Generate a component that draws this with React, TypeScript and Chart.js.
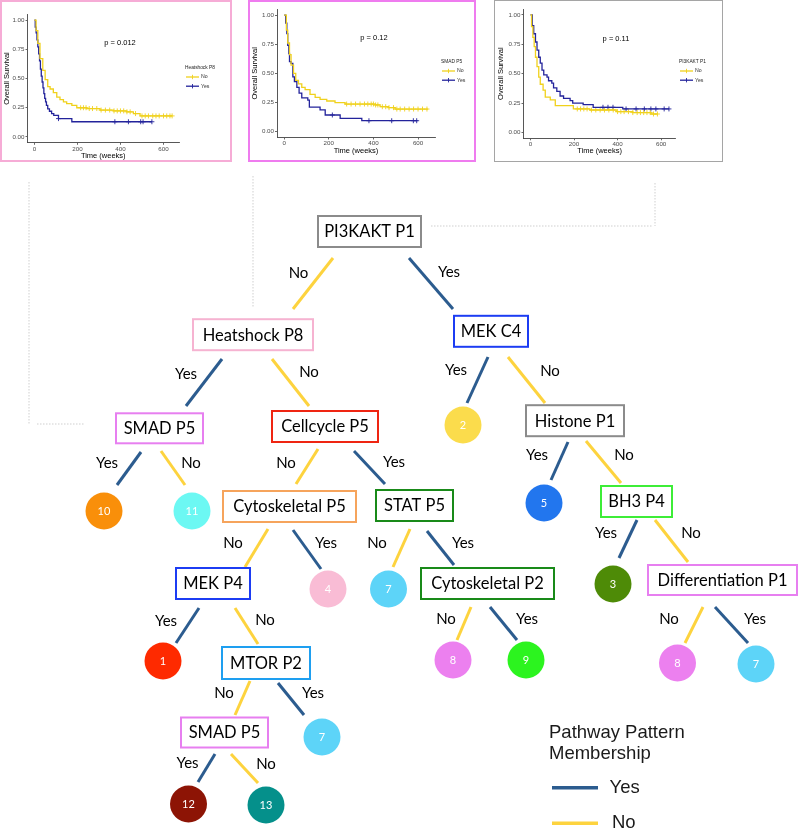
import React, { useEffect, useRef } from 'react';
import { Chart, registerables } from 'chart.js';

Chart.register(...registerables);

// ===== Kaplan–Meier survival curves (time in weeks, survival probability) =====
const kmTimeTicks = [0, 200, 400, 600];
const kmSurvivalTicks = [0, 0.25, 0.5, 0.75, 1];
const kmGroups = ['No', 'Yes'];
const kmGroupTitles = ['Heatshock P8', 'SMAD P5', 'PI3KAKT P1'];
const kmPValues = ['p = 0.012', 'p = 0.12', 'p = 0.11'];

const heatshockNoTime = [0, 8, 16, 26, 39, 50, 62, 73, 88, 104, 119, 135, 150, 174, 197, 243, 305, 367, 429, 460, 491, 640];
const heatshockNoSurv = [1, 0.91, 0.8, 0.67, 0.57, 0.49, 0.43, 0.41, 0.38, 0.34, 0.32, 0.3, 0.285, 0.27, 0.25, 0.243, 0.23, 0.223, 0.215, 0.2, 0.18, 0.18];
const heatshockNoCensor = [215, 228, 240, 255, 270, 290, 310, 330, 350, 370, 385, 400, 415, 430, 445, 470, 500, 515, 530, 550, 565, 580, 600, 615, 630, 640];
const heatshockYesTime = [0, 4, 8, 12, 16, 20, 24, 28, 32, 36, 40, 44, 48, 52, 56, 62, 70, 80, 90, 112, 174, 546];
const heatshockYesSurv = [1, 0.94, 0.89, 0.83, 0.77, 0.71, 0.65, 0.58, 0.52, 0.47, 0.42, 0.37, 0.33, 0.3, 0.27, 0.24, 0.22, 0.2, 0.185, 0.157, 0.13, 0.13];
const heatshockYesCensor = [112, 374, 437, 494, 505, 546];

const smadNoTime = [0, 10, 16, 24, 31, 42, 52, 64, 79, 94, 116, 139, 161, 191, 228, 273, 407, 430, 467, 497, 644];
const smadNoSurv = [1, 0.87, 0.76, 0.66, 0.57, 0.5, 0.44, 0.41, 0.38, 0.36, 0.32, 0.294, 0.277, 0.263, 0.249, 0.237, 0.229, 0.214, 0.206, 0.194, 0.194];
const smadNoCensor = [280, 300, 320, 340, 360, 375, 390, 400, 410, 420, 440, 455, 470, 490, 505, 520, 540, 560, 580, 600, 620, 640];
const smadYesTime = [0, 7, 12, 16, 21, 24, 31, 39, 46, 57, 67, 79, 106, 113, 161, 184, 251, 348, 598];
const smadYesSurv = [1, 0.93, 0.84, 0.74, 0.67, 0.6, 0.586, 0.47, 0.43, 0.38, 0.33, 0.29, 0.27, 0.21, 0.186, 0.143, 0.114, 0.094, 0.094];
const smadYesCensor = [216, 380, 482, 579, 594];

const pi3kNoTime = [0, 5, 11, 17, 23, 30, 38, 45, 58, 68, 91, 114, 197, 273, 394, 470, 553, 583];
const pi3kNoSurv = [1, 0.9, 0.81, 0.73, 0.64, 0.56, 0.47, 0.41, 0.36, 0.3, 0.277, 0.229, 0.2, 0.191, 0.177, 0.169, 0.157, 0.157];
const pi3kNoCensor = [215, 230, 245, 260, 280, 300, 320, 340, 360, 380, 400, 415, 430, 450, 470, 490, 505, 520, 535, 550, 565, 583];
const pi3kYesTime = [0, 8, 15, 23, 30, 38, 45, 53, 61, 76, 83, 98, 106, 121, 136, 152, 182, 194, 242, 288, 424, 636];
const pi3kYesSurv = [1, 0.91, 0.84, 0.77, 0.7, 0.64, 0.59, 0.53, 0.49, 0.47, 0.44, 0.42, 0.38, 0.35, 0.31, 0.29, 0.27, 0.25, 0.237, 0.214, 0.2, 0.2];
const pi3kYesCensor = [333, 356, 379, 439, 485, 523, 553, 576, 614, 636];

// ===== Decision tree =====
const splitLabels = ['PI3KAKT P1', 'Heatshock P8', 'MEK C4', 'SMAD P5', 'Cellcycle P5', 'Histone P1', 'Cytoskeletal P5', 'STAT P5', 'BH3 P4', 'MEK P4', 'Cytoskeletal P2', 'Differentiation P1', 'MTOR P2', 'SMAD P5'];
const leafClusters = ['2', '10', '11', '5', '4', '7', '3', '1', '8', '9', '8', '7', '7', '12', '13'];
const edgeBranches = ['No', 'Yes', 'Yes', 'No', 'Yes', 'No', 'Yes', 'No', 'No', 'Yes', 'Yes', 'No', 'No', 'Yes', 'No', 'Yes', 'Yes', 'No', 'Yes', 'No', 'No', 'Yes', 'No', 'Yes', 'No', 'Yes', 'Yes', 'No'];
const membershipTitle = ['Pathway Pattern', 'Membership'];
const membershipEntries = ['Yes', 'No'];

// ----- layout & styles (kept apart from the data) -----
const YES_BLUE = '#2c5c8f';
const NO_YELLOW = '#fdd33e';
const KM_YES = '#23239b';
const KM_NO = '#f0d11c';
const KM_FONT = '"Liberation Sans", Arial, sans-serif';
const TREE_FONT = 'Lato, "Liberation Sans", sans-serif';

const splitBoxes = [
  [369.5, 231.5, 103, 31], [253, 334.7, 120, 31], [491, 331.3, 74, 31], [159.5, 428.3, 87, 30],
  [325, 426.5, 106, 31], [575, 420.7, 98, 31], [289.5, 506.5, 133, 31], [414.5, 505.5, 77, 31],
  [636.5, 501.5, 71, 31], [213, 583.5, 74, 31], [487.5, 583.5, 133, 31], [722.5, 580, 149, 30],
  [266, 663, 88, 32], [224.5, 732.5, 87, 30],
];
const splitColors = ['#8b8b8b', '#f6b3d1', '#1c3cf3', '#e77ff0', '#ef2512', '#8b8b8b', '#f6a45c', '#198a19', '#3ded37', '#1c3cf3', '#198a19', '#e77ff0', '#1e9ff0', '#e77ff0'];
const leafCenters = [
  [463, 425], [104, 511], [192, 511], [544, 503], [328, 589], [388.5, 589], [613, 584], [163, 661],
  [453, 660], [526, 660], [677.5, 663], [756, 664], [322, 737], [188.5, 804], [266, 805],
];
const leafColors = ['#fbdc4c', '#f98f0a', '#6cf8f3', '#2276ee', '#f9bcd5', '#5dd4f8', '#4e8b07', '#fe2a00', '#ec80ef', '#2cf41f', '#ec80ef', '#5dd4f8', '#5dd4f8', '#8d1405', '#05908b'];
const edgeSegments = [
  [333, 258, 293, 309], [409, 258, 453, 309], [222, 359, 186, 406], [272, 359, 309, 406],
  [488, 357, 467, 403], [508, 357, 545, 403], [141, 452, 117, 485], [161, 451, 185, 485],
  [318, 449, 296, 484], [354, 451, 385, 484], [568, 442, 551, 480], [586, 441, 621, 483],
  [268, 529, 245, 567], [293, 530, 321, 569], [410, 529, 393, 567], [427, 531, 454, 565],
  [637, 520, 619, 558], [655, 520, 688, 562], [199, 608, 176, 643], [235, 608, 258, 644],
  [471, 607, 457, 640], [490, 607, 517, 640], [703, 607, 685, 643], [715, 607, 748, 643],
  [250, 681, 235, 715], [278, 683, 304, 715], [215, 754, 198, 782], [231, 754, 258, 783],
];
const edgeLabelAt = [
  [298.5, 273], [449, 272], [186, 374], [309, 372], [456, 370], [550, 371], [107, 463], [191, 463],
  [286, 463], [394, 462], [537, 455], [624, 455], [233, 543], [326, 543], [377, 543], [463, 543],
  [606, 533], [691, 533], [166, 621], [265, 620], [446, 619], [527, 619], [669, 619], [755, 619],
  [224, 693], [313, 693], [187.5, 763], [266, 764],
];
const guideSegments = [[29, 182, 29, 425], [37, 424, 85, 424], [253, 176, 253, 308], [655, 183, 655, 226], [431, 226, 652, 226]];

type KMSpec = {
  curves: [number[], number[], number[]][];
  title: string;
  p: string;
  xMin: number;
  xMax: number;
  box: { left: number; top: number; width: number; height: number; border: string; bw: number };
  area: { l: number; r: number; t: number; b: number };
  yTitlePad: number;
  xTitlePad: number;
  pPos: [number, number];
  legPos: [number, number];
};

const kmSpecs: KMSpec[] = [
  {
    curves: [[heatshockNoTime, heatshockNoSurv, heatshockNoCensor], [heatshockYesTime, heatshockYesSurv, heatshockYesCensor]],
    title: kmGroupTitles[0], p: kmPValues[0], xMin: -32, xMax: 672,
    box: { left: 0, top: 0, width: 232, height: 162, border: '#f6acd6', bw: 2 },
    area: { l: 27.5, r: 179, t: 14.2, b: 142.8 }, yTitlePad: 2.5, xTitlePad: 1.8,
    pPos: [120, 43], legPos: [185, 68],
  },
  {
    curves: [[smadNoTime, smadNoSurv, smadNoCensor], [smadYesTime, smadYesSurv, smadYesCensor]],
    title: kmGroupTitles[1], p: kmPValues[1], xMin: -32, xMax: 676,
    box: { left: 248, top: 0, width: 228, height: 162, border: '#ef7cef', bw: 2 },
    area: { l: 29, r: 187, t: 9.2, b: 137.5 }, yTitlePad: 2.5, xTitlePad: 7,
    pPos: [126, 38], legPos: [193, 62],
  },
  {
    curves: [[pi3kNoTime, pi3kNoSurv, pi3kNoCensor], [pi3kYesTime, pi3kYesSurv, pi3kYesCensor]],
    title: kmGroupTitles[2], p: kmPValues[2], xMin: -32, xMax: 667,
    box: { left: 494, top: 0, width: 229, height: 162, border: '#a5a5a5', bw: 1.5 },
    area: { l: 29.5, r: 181.7, t: 9.1, b: 138.3 }, yTitlePad: 2.5, xTitlePad: 6.5,
    pPos: [122, 39], legPos: [185, 62],
  },
];

const survivalAt = (t: number[], s: number[], x: number) => {
  let v = s[0];
  for (let i = 0; i < t.length; i++) if (t[i] <= x) v = s[i];
  return v;
};

const kmAnnotations = {
  id: 'kmAnnotations',
  afterDraw(chart: any, _args: any, o: any) {
    const ctx = chart.ctx;
    ctx.save();
    ctx.fillStyle = '#000';
    ctx.font = `7.5px ${KM_FONT}`;
    ctx.textAlign = 'center';
    ctx.textBaseline = 'middle';
    ctx.fillText(o.p, o.pX, o.pY);
    ctx.textAlign = 'left';
    ctx.font = `4.8px ${KM_FONT}`;
    ctx.fillStyle = '#1a1a1a';
    ctx.fillText(o.title, o.legX, o.legY);
    o.items.forEach((it: any, i: number) => {
      const y = o.legY + 9 + i * 9.2;
      ctx.strokeStyle = it.color;
      ctx.lineWidth = 1.3;
      ctx.beginPath();
      ctx.moveTo(o.legX + 1, y);
      ctx.lineTo(o.legX + 14, y);
      ctx.stroke();
      const cx = o.legX + 7.5;
      ctx.lineWidth = 0.9;
      ctx.beginPath();
      ctx.moveTo(cx, y - 2.2);
      ctx.lineTo(cx, y + 2.2);
      ctx.stroke();
      ctx.fillStyle = '#333';
      ctx.font = `5.2px ${KM_FONT}`;
      ctx.fillText(it.label, o.legX + 16, y);
    });
    ctx.restore();
  },
};

function kmConfig(spec: KMSpec): any {
  const colors = [KM_NO, KM_YES];
  const datasets: any[] = [];
  spec.curves.forEach(([t, s], gi) => {
    datasets.push({
      label: kmGroups[gi],
      data: t.map((x, i) => ({ x, y: s[i] })),
      borderColor: colors[gi],
      borderWidth: 1.3,
      stepped: 'before',
      pointRadius: 0,
      fill: false,
    });
  });
  spec.curves.forEach(([t, s, c], gi) => {
    datasets.push({
      label: kmGroups[gi] + ' censored',
      data: c.map((x) => ({ x, y: survivalAt(t, s, x) })),
      showLine: false,
      pointStyle: 'cross',
      pointRadius: 2.5,
      pointBorderColor: colors[gi],
      pointBorderWidth: 0.9,
      borderColor: colors[gi],
    });
  });
  const axisGrid = { display: true, drawOnChartArea: false, drawTicks: true, tickLength: 2, color: '#444', lineWidth: 0.8 };
  const axisBorder = { display: true, color: '#444', width: 0.9 };
  return {
    type: 'line',
    data: { datasets },
    plugins: [kmAnnotations],
    options: {
      animation: false,
      responsive: false,
      maintainAspectRatio: false,
      events: [],
      layout: { autoPadding: false, padding: { left: 0, top: spec.area.t, right: spec.box.width - spec.area.r, bottom: 0 } },
      plugins: {
        legend: { display: false },
        tooltip: { enabled: false },
        kmAnnotations: {
          p: spec.p, pX: spec.pPos[0], pY: spec.pPos[1], title: spec.title,
          legX: spec.legPos[0], legY: spec.legPos[1],
          items: kmGroups.map((g, i) => ({ label: g, color: colors[i] })),
        },
      },
      scales: {
        x: {
          type: 'linear', min: spec.xMin, max: spec.xMax,
          afterBuildTicks: (ax: any) => { ax.ticks = kmTimeTicks.map((v) => ({ value: v })); },
          afterFit: (sc: any) => { sc.height = spec.box.height - spec.area.b; },
          grid: axisGrid, border: axisBorder,
          ticks: { font: { family: KM_FONT, size: 6.2 }, color: '#4d4d4d', padding: 0.5, maxRotation: 0, autoSkip: false, callback: (v: any) => String(v) },
          title: { display: true, text: 'Time (weeks)', color: '#000', font: { family: KM_FONT, size: 7.5 }, padding: { top: 0, bottom: spec.xTitlePad } },
        },
        y: {
          type: 'linear', min: -0.05, max: 1.05,
          afterBuildTicks: (ax: any) => { ax.ticks = kmSurvivalTicks.map((v) => ({ value: v })); },
          afterFit: (sc: any) => { sc.width = spec.area.l; },
          grid: axisGrid, border: axisBorder,
          ticks: { font: { family: KM_FONT, size: 6.2 }, color: '#4d4d4d', padding: 1, autoSkip: false, callback: (v: any) => Number(v).toFixed(2) },
          title: { display: true, text: 'Overall Survival', color: '#000', font: { family: KM_FONT, size: 7.5 }, padding: { top: spec.yTitlePad, bottom: 0 } },
        },
      },
    },
  };
}

const treeAnnotations = {
  id: 'treeAnnotations',
  afterDatasetsDraw(chart: any) {
    const { ctx } = chart;
    const xs = chart.scales.x;
    const ys = chart.scales.y;
    const px = (v: number) => xs.getPixelForValue(v);
    const py = (v: number) => ys.getPixelForValue(v);
    ctx.save();
    // split boxes
    splitLabels.forEach((label, i) => {
      const [cx, cy, w, h] = splitBoxes[i];
      const x0 = px(cx - w / 2), x1 = px(cx + w / 2);
      const y0 = py(cy - h / 2), y1 = py(cy + h / 2);
      ctx.fillStyle = '#fff';
      ctx.fillRect(x0, y0, x1 - x0, y1 - y0);
      ctx.strokeStyle = splitColors[i];
      ctx.lineWidth = 2;
      ctx.strokeRect(x0, y0, x1 - x0, y1 - y0);
      ctx.fillStyle = '#000';
      ctx.font = `16.5px ${TREE_FONT}`;
      ctx.textAlign = 'center';
      ctx.textBaseline = 'middle';
      ctx.fillText(label, px(cx), py(cy) + 0.5);
    });
    // leaf numbers
    ctx.fillStyle = '#fff';
    ctx.font = `11px ${TREE_FONT}`;
    leafClusters.forEach((c, i) => {
      ctx.fillText(c, px(leafCenters[i][0]), py(leafCenters[i][1]) + 0.5);
    });
    // branch labels
    ctx.fillStyle = '#000';
    ctx.font = `15px ${TREE_FONT}`;
    edgeBranches.forEach((b, i) => {
      ctx.fillText(b, px(edgeLabelAt[i][0]), py(edgeLabelAt[i][1]));
    });
    // membership legend
    ctx.textAlign = 'left';
    ctx.textBaseline = 'alphabetic';
    ctx.fillStyle = '#1a1a1a';
    ctx.font = `18.5px ${KM_FONT}`;
    membershipTitle.forEach((t, i) => ctx.fillText(t, px(549), py(738.3 + i * 21)));
    membershipEntries.forEach((e, i) => {
      const y = 787.8 + i * 35.5;
      ctx.strokeStyle = e === 'Yes' ? YES_BLUE : NO_YELLOW;
      ctx.lineWidth = 3.5;
      ctx.beginPath();
      ctx.moveTo(px(552), py(y));
      ctx.lineTo(px(598), py(y));
      ctx.stroke();
      ctx.fillStyle = '#1a1a1a';
      ctx.font = `18.5px ${KM_FONT}`;
      ctx.textBaseline = 'middle';
      ctx.fillText(e, px(e === 'Yes' ? 609.5 : 612), py(y));
    });
    ctx.restore();
  },
};

function treeConfig(): any {
  const datasets: any[] = [];
  guideSegments.forEach(([x1, y1, x2, y2]) => {
    datasets.push({
      data: [{ x: x1, y: y1 }, { x: x2, y: y2 }],
      showLine: true, borderColor: '#cfcfcf', borderWidth: 1, borderDash: [1.5, 1.5], pointRadius: 0,
    });
  });
  edgeBranches.forEach((b, i) => {
    const [x1, y1, x2, y2] = edgeSegments[i];
    datasets.push({
      label: b,
      data: [{ x: x1, y: y1 }, { x: x2, y: y2 }],
      showLine: true, borderColor: b === 'Yes' ? YES_BLUE : NO_YELLOW, borderWidth: 3, borderCapStyle: 'butt', pointRadius: 0,
    });
  });
  datasets.push({
    label: 'clusters',
    data: leafCenters.map(([x, y]) => ({ x, y })),
    pointRadius: 18.5,
    pointHoverRadius: 18.5,
    backgroundColor: leafColors,
    pointBackgroundColor: leafColors,
    pointBorderWidth: 0,
    borderWidth: 0,
  });
  return {
    type: 'scatter',
    data: { datasets },
    plugins: [treeAnnotations],
    options: {
      animation: false,
      responsive: false,
      maintainAspectRatio: false,
      events: [],
      layout: { autoPadding: false, padding: 0 },
      plugins: { legend: { display: false }, tooltip: { enabled: false } },
      scales: {
        x: { type: 'linear', min: 0, max: 800, display: false },
        y: { type: 'linear', min: 165, max: 828, reverse: true, display: false },
      },
    },
  };
}

function ChartCanvas({ left, top, width, height, make }: { left: number; top: number; width: number; height: number; make: () => any }) {
  const ref = useRef<HTMLCanvasElement>(null);
  useEffect(() => {
    const chart = new Chart(ref.current as HTMLCanvasElement, make());
    return () => chart.destroy();
  }, []);
  return <canvas ref={ref} width={width} height={height} style={{ position: 'absolute', left, top, width, height }} />;
}

export default function App() {
  useEffect(() => {
    document.body.style.margin = '0';
  }, []);
  return (
    <div style={{ position: 'absolute', left: 0, top: 0, width: 800, height: 828, background: '#fff', overflow: 'hidden' }}>
      {kmSpecs.map((s, i) => (
        <ChartCanvas key={'km' + i} left={s.box.left} top={s.box.top} width={s.box.width} height={s.box.height} make={() => kmConfig(s)} />
      ))}
      {kmSpecs.map((s, i) => (
        <div key={'bd' + i} style={{ position: 'absolute', left: s.box.left, top: s.box.top, width: s.box.width, height: s.box.height, border: `${s.box.bw}px solid ${s.box.border}`, boxSizing: 'border-box' }} />
      ))}
      <ChartCanvas left={0} top={165} width={800} height={663} make={treeConfig} />
    </div>
  );
}
